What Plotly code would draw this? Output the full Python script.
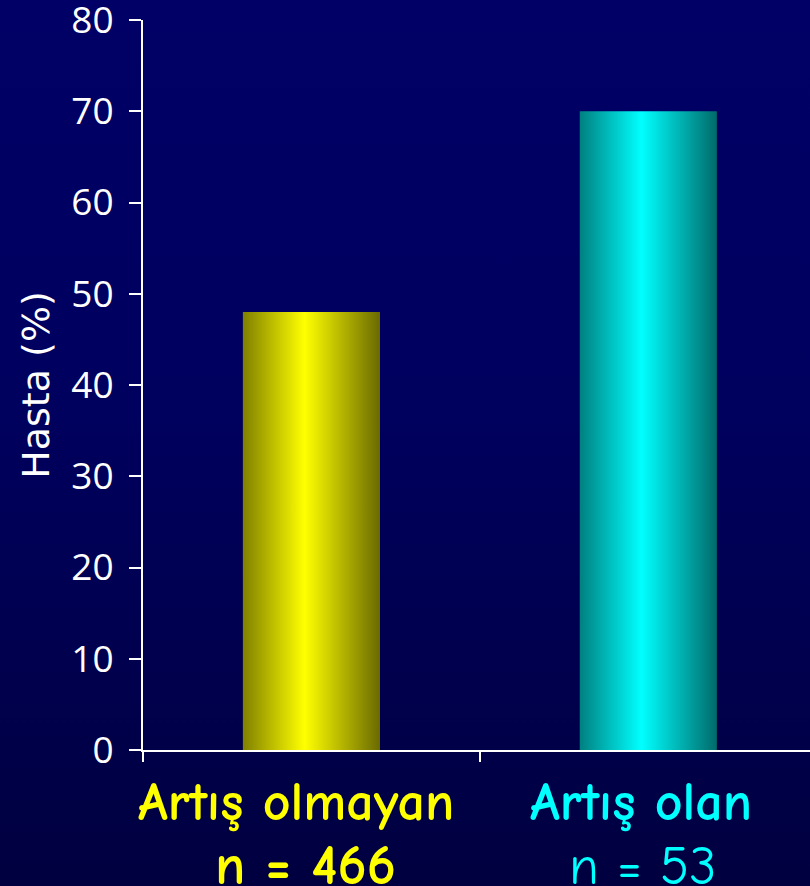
import base64
import plotly.graph_objects as go

# ---- data ----
categories = ["Artış olmayan", "Artış olan"]
n_labels = ["n = 466", "n = 53"]
values = [48, 70]
y_ticks = [0, 10, 20, 30, 40, 50, 60, 70, 80]

# ---- styles ----
bar_scales = [
    [[0, "#808000"], [0.45, "#ffff00"], [1, "#6a6a00"]],
    [[0, "#008080"], [0.45, "#00ffff"], [1, "#006a6a"]],
]
label_colors = ["#ffff00", "#00ffff"]
n_bold = [True, False]
cat_xshift = [-15, -7]
n_xshift = [-6, -6]
n_size = [56, 54]
bar_width = 0.407

W, H = 810, 886
ML, MR, MT, MB = 143, 0, 20, 136
PW, PH = W - ML - MR, H - MT - MB

fig = go.Figure()
for i, (v, cs) in enumerate(zip(values, bar_scales)):
    x0, x1 = i - bar_width / 2, i + bar_width / 2
    fig.add_trace(go.Scatter(
        x=[x0, x1, x1, x0, x0], y=[0, 0, v, v, 0],
        mode="lines", fill="toself", line=dict(width=0, color="rgba(0,0,0,0)"),
        fillgradient=dict(type="horizontal", colorscale=cs),
        hoverinfo="skip", showlegend=False,
    ))

# background gradient
svg = ('<svg xmlns="http://www.w3.org/2000/svg" width="10" height="100" preserveAspectRatio="none">'
       '<defs><linearGradient id="g" x1="0" y1="0" x2="0" y2="1">'
       '<stop offset="0" stop-color="#000066"/><stop offset="0.45" stop-color="#00005f"/>'
       '<stop offset="1" stop-color="#000040"/></linearGradient></defs>'
       '<rect width="10" height="100" fill="url(#g)"/></svg>')
uri = "data:image/svg+xml;base64," + base64.b64encode(svg.encode()).decode()
fig.add_layout_image(dict(
    source=uri, xref="paper", yref="paper",
    x=-ML / PW, y=1 + MT / PH, sizex=W / PW, sizey=H / PH,
    xanchor="left", yanchor="top", sizing="stretch", layer="below",
))

label_font = "Comic Sans MS, Comic Neue, Lato, sans-serif"
for i, (cat, nl, col, nb) in enumerate(zip(categories, n_labels, label_colors, n_bold)):
    fig.add_annotation(x=i, y=0, xref="x", yref="paper", yanchor="middle",
                       yshift=-52, xshift=cat_xshift[i], showarrow=False,
                       text="<b>" + cat + "</b>",
                       font=dict(family=label_font, size=54, color=col))
    fig.add_annotation(x=i, y=0, xref="x", yref="paper", yanchor="middle",
                       yshift=-116, xshift=n_xshift[i], showarrow=False,
                       text=("<b>" + nl + "</b>") if nb else nl,
                       font=dict(family=label_font, size=n_size[i], color=col))

fig.update_layout(
    width=W, height=H,
    margin=dict(l=ML, r=MR, t=MT, b=MB, autoexpand=False),
    paper_bgcolor="#000058", plot_bgcolor="rgba(0,0,0,0)",
    showlegend=False,
    xaxis=dict(range=[-0.5, 1.48], tickvals=[-0.5, 0.5], showticklabels=False,
               ticks="outside", ticklen=10, tickwidth=2, tickcolor="white",
               showline=True, linecolor="white", linewidth=2, automargin=False,
               showgrid=False, zeroline=False, fixedrange=True),
    yaxis=dict(range=[0, 80], tickvals=y_ticks, ticks="outside", ticklen=12,
               tickwidth=2, tickcolor="white", showline=True, linecolor="white",
               linewidth=2, showgrid=False, zeroline=False, ticklabeloverflow="allow",
               ticklabelstandoff=8, automargin=False,
               tickfont=dict(family="Open Sans, sans-serif", size=37, color="white"),
               title=dict(text="Hasta (%)", standoff=10,
                          font=dict(family="DejaVu Sans, sans-serif", size=38, color="white")),
               fixedrange=True),
)

fig.write_html("out.html", post_script="document.body.style.margin='0';",
               config={"displayModeBar": False})
